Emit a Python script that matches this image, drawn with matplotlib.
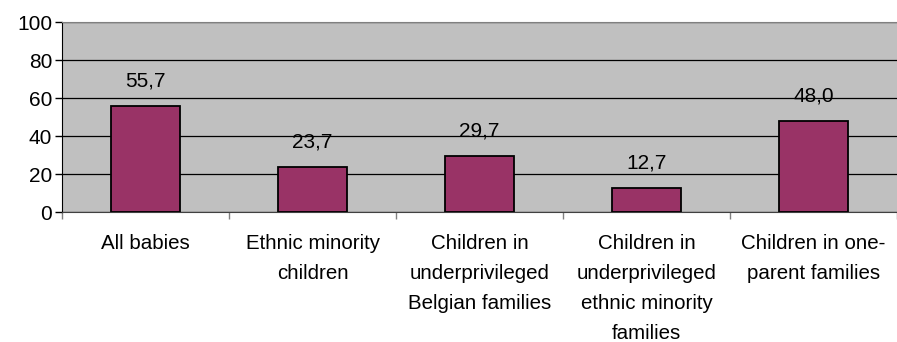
import numpy as np
import matplotlib.pyplot as plt

plt.rcParams['font.family'] = ['Liberation Sans', 'DejaVu Sans']

categories = [
    "All babies",
    "Ethnic minority\nchildren",
    "Children in\nunderprivileged\nBelgian families",
    "Children in\nunderprivileged\nethnic minority\nfamilies",
    "Children in one-\nparent families",
]
values = [55.7, 23.7, 29.7, 12.7, 48.0]
yticks = [0, 20, 40, 60, 80, 100]

fig = plt.figure(figsize=(8.97, 3.42), dpi=100)
ax = fig.add_axes([62 / 897, 130 / 342, 835 / 897, 190 / 342])
ax.set_facecolor("#C0C0C0")

x = np.arange(len(values))
ax.bar(x, values, width=0.41, color="#993366", edgecolor="black", linewidth=1.3, zorder=3)

for xi, v in zip(x, values):
    ax.annotate(f"{v:.1f}".replace(".", ","), (xi, v), xytext=(0, 11),
                textcoords="offset points", ha="center", va="bottom", fontsize=15)

ax.set_xlim(-0.5, len(values) - 0.5)
ax.set_ylim(0, 100)
ax.set_yticks(yticks)
ax.set_yticklabels([str(t) for t in yticks], fontsize=15)
ax.yaxis.grid(True, color="black", linewidth=0.9, zorder=1)
ax.set_axisbelow(True)

ax.set_xticks(x)
ax.set_xticklabels(categories, fontsize=14.8, linespacing=1.72, va="top")
ax.tick_params(axis="x", length=0, pad=16)
ax.set_xticks(np.arange(len(values) + 1) - 0.5, minor=True)
ax.tick_params(axis="x", which="minor", length=5, color="#808080", width=1)
ax.tick_params(axis="y", length=5, width=1, pad=2)

ax.spines["top"].set_color("#808080")
ax.spines["right"].set_visible(False)
ax.spines["left"].set_color("black")
ax.spines["bottom"].set_color("#404040")

fig.savefig("out.png", dpi=100)
